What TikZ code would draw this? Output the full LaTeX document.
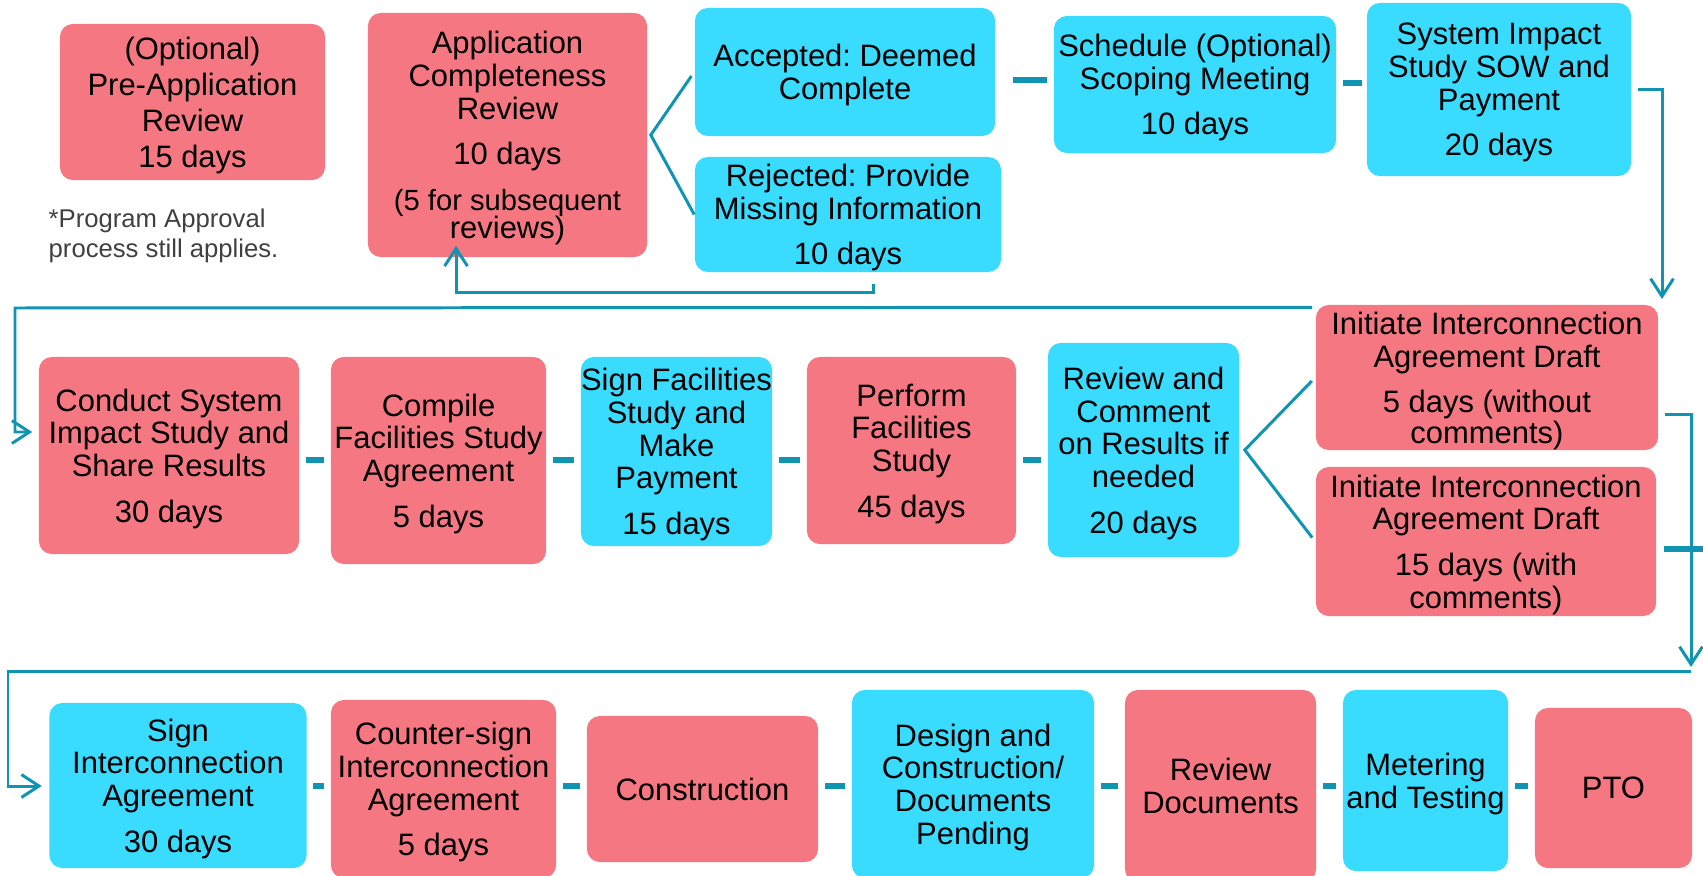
\documentclass[tikz,border=0pt]{standalone}
\usepackage{fontspec}
\setmainfont{Liberation Sans}
\usetikzlibrary{arrows.meta}
\frenchspacing

\definecolor{boxred}{RGB}{244,119,130}
\definecolor{boxblue}{RGB}{57,220,255}
\definecolor{linkteal}{RGB}{16,148,178}
\definecolor{notegray}{RGB}{64,64,64}

\begin{document}
\begin{tikzpicture}[x=0.01cm,y=-0.01cm,
		>={Straight Barb[length=5pt,width=6.5pt]},
		box/.style={rounded corners=3.7pt,inner sep=0pt,align=center,
			font=\fontsize{8.8}{9.3}\selectfont,text depth=0pt},
		redbox/.style={box,fill=boxred},
		bluebox/.style={box,fill=boxblue},
		link/.style={draw=linkteal,line width=0.85pt},
		joint/.style={draw=linkteal,line width=1.7pt,shorten <=1.7pt,shorten >=1.7pt}]
			
			\useasboundingbox (0,0) rectangle (1703,876);
			\clip (0,0) rectangle (1703,876);
			
			% first row
			\node[redbox,minimum width=2.65cm,minimum height=1.56cm] (preapp) at (192.5,102)
				{(Optional)\\[0.9pt]Pre-Application\\[0.9pt]Review\\[0.9pt]15 days};
			
			\node[redbox,minimum width=2.79cm,minimum height=2.44cm] (appcomp) at (507.5,135)
				{Application\\Completeness\\Review\\[3.5pt]10 days\\[3.8pt]%
				\fontsize{8.3}{9.3}\selectfont(5 for subsequent\\[-1.3pt]reviews)};
			
			\node[bluebox,minimum width=3cm,minimum height=1.28cm] (accepted) at (845,72)
				{Accepted: Deemed\\Complete};
			
			\node[bluebox,minimum width=3.06cm,minimum height=1.15cm] (rejected) at (848,214.5)
				{Rejected: Provide\\Missing Information\\[3.7pt]10 days};
			
			\node[bluebox,minimum width=2.82cm,minimum height=1.37cm] (schedule) at (1195,84.5)
				{Schedule (Optional)\\Scoping Meeting\\[3.7pt]10 days};
			
			\node[bluebox,minimum width=2.64cm,minimum height=1.73cm] (sow) at (1499,89.5)
				{System Impact\\Study SOW and\\Payment\\[3.7pt]20 days};
			
			\node[anchor=west,inner sep=0pt,align=left,text=notegray,
				font=\fontsize{7.3}{8.5}\selectfont] (note) at (48,236)
				{*Program Approval\\process still applies.};
			
			% second row
			\node[redbox,minimum width=2.6cm,minimum height=1.97cm] (conduct) at (169,455.5)
				{Conduct System\\Impact Study and\\Share Results\\[3.7pt]30 days};
			
			\node[redbox,minimum width=2.15cm,minimum height=2.07cm] (compile) at (438.5,460.5)
				{Compile\\Facilities Study\\Agreement\\[3.7pt]5 days};
			
			\node[bluebox,minimum width=1.91cm,minimum height=1.89cm] (signfac) at (676.5,451.5)
				{Sign Facilities\\Study and\\Make\\Payment\\[3.7pt]15 days};
			
			\node[redbox,minimum width=2.09cm,minimum height=1.87cm] (perform) at (911.5,450.5)
				{Perform\\Facilities\\Study\\[3.7pt]45 days};
			
			\node[bluebox,minimum width=1.91cm,minimum height=2.14cm] (review) at (1143.5,450)
				{Review and\\Comment\\on Results if\\needed\\[3.7pt]20 days};
			
			\node[redbox,minimum width=3.42cm,minimum height=1.45cm] (initA) at (1487,377.5)
				{Initiate Interconnection\\Agreement Draft\\[3.7pt]5 days (without\\[-0.7pt]comments)};
			
			\node[redbox,minimum width=3.4cm,minimum height=1.49cm] (initB) at (1486,541.5)
				{Initiate Interconnection\\Agreement Draft\\[3.7pt]15 days (with\\comments)};
			
			% third row
			\node[bluebox,minimum width=2.57cm,minimum height=1.65cm] (signia) at (178,785.5)
				{Sign\\Interconnection\\Agreement\\[3.7pt]30 days};
			
			\node[redbox,minimum width=2.25cm,minimum height=1.78cm] (counter) at (443.5,789)
				{Counter-sign\\Interconnection\\Agreement\\[3.7pt]5 days};
			
			\node[redbox,minimum width=2.31cm,minimum height=1.46cm] (construct) at (702.5,789)
				{Construction};
			
			\node[bluebox,minimum width=2.42cm,minimum height=1.88cm] (design) at (973,784)
				{Design and\\Construction/\\Documents\\Pending};
			
			\node[redbox,minimum width=1.91cm,minimum height=1.92cm] (revdocs) at (1220.5,786)
				{Review\\Documents};
			
			\node[bluebox,minimum width=1.65cm,minimum height=1.81cm] (meter) at (1425.5,780.5)
				{Metering\\and Testing};
			
			\node[redbox,minimum width=1.57cm,minimum height=1.6cm] (pto) at (1613.5,788)
				{PTO};
			
			% branches
			\draw[link,shorten <=1.4pt] (accepted.west) -- ([shift={(3,0)}]appcomp.east) -- (rejected.west);
			\draw[link,shorten <=1.4pt,shorten >=1.4pt] (initA.west) -- ([shift={(5,0)}]review.east) -- (initB.west);
			
			% short joints
			\coordinate (row1) at (0,80);
			\coordinate (row2) at (0,460);
			\coordinate (row3) at (0,786);
			
			\draw[joint,shorten <=4.8pt] (accepted.east |- row1) -- (schedule.west |- row1);
			\draw[joint,shorten >=1.1pt] ([shift={(0,3)}]schedule.east |- row1) -- ([shift={(0,3)}]sow.west |- row1);
			
			\foreach \a/\b in {conduct/compile,compile/signfac,signfac/perform,perform/review}
			{
				\draw[joint] (\a.east |- row2) -- (\b.west |- row2);
			}
			
			\foreach \a/\b in {signia/counter,counter/construct,construct/design,design/revdocs,revdocs/meter,meter/pto}
			{
				\draw[joint] (\a.east |- row3) -- (\b.west |- row3);
			}
			
			% loops between rows
			\coordinate (downA) at (1662,299);
			\draw[link,->,shorten <=1.7pt] (sow.east) -| (downA);
			
			\draw[link,->] ([shift={(25,11)}]rejected.south) -- ++(0,9) -| ([shift={(-51.5,-12)}]appcomp.south);
			
			\coordinate (bendA) at (15,308);
			\draw[link,->] ([shift={(-3,3)}]initA.north west) -- (bendA) |- ([shift={(-6,-23.5)}]conduct.west);
			
			\coordinate (downB) at (1691,667);
			\draw[link,->,shorten <=1.7pt] ([shift={(0,37)}]initA.east) -| (downB);
			\draw[joint,shorten >=0pt,shorten <=2pt] ([shift={(0,7.5)}]initB.east) -- ++(47,0);
			
			\coordinate (bendB) at (1691,671);
			\coordinate (bendC) at (8,671);
			\draw[link,->] (bendB) -- (bendC) |- ([shift={(-7,0.5)}]signia.west);
			
		\end{tikzpicture}
\end{document}
